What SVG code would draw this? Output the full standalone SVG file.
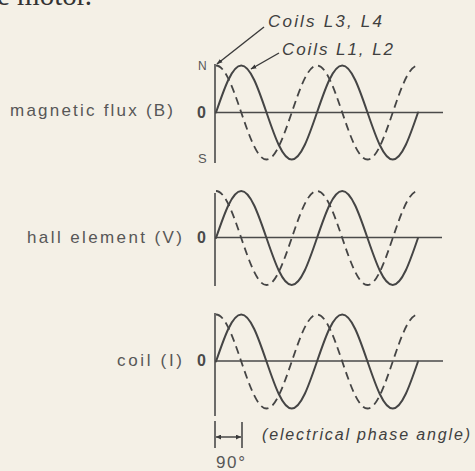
<svg xmlns="http://www.w3.org/2000/svg" xmlns:xlink="http://www.w3.org/1999/xlink" width="475" height="471" viewBox="0 0 475 471">
<style>
.bg{fill:#f4f0e6}
.t{font-family:"Liberation Sans",Arial,sans-serif;fill:#575757;font-size:17px}
.it{font-style:italic;fill:#404040}
.z{font-weight:bold;fill:#4a4a4a;font-size:16px}
.ax{stroke:#4a4a4a;stroke-width:1.6;fill:none}
.sol{stroke:#454545;stroke-width:2;fill:none;stroke-linecap:round}
.dsh{stroke:#454545;stroke-width:1.8;fill:none;stroke-dasharray:8 5}
.ld{stroke:#3a3a3a;stroke-width:1.4;fill:none}
.cap{font-family:"Liberation Serif","Times New Roman",serif;fill:#333;font-size:29px}
</style>
<defs>
<path id="sinw" d="M0,0 c8.234,-24.08 16.112,-47 25.25,-47 c9.138,0 17.016,22.92 25.25,47 c8.234,24.08 16.112,47 25.25,47 c9.138,0 17.016,-22.92 25.25,-47 c8.234,-24.08 16.112,-47 25.25,-47 c9.138,0 17.016,22.92 25.25,47 c8.234,24.08 16.112,47 25.25,47 c9.138,0 17.016,-22.92 25.25,-47"/>
<path id="cosw" d="M0,-47 c9.138,0 17.016,22.92 25.25,47 c8.234,24.08 16.112,47 25.25,47 c9.138,0 17.016,-22.92 25.25,-47 c8.234,-24.08 16.112,-47 25.25,-47 c9.138,0 17.016,22.92 25.25,47 c8.234,24.08 16.112,47 25.25,47 c9.138,0 17.016,-22.92 25.25,-47 c8.234,-24.08 16.112,-47 25.25,-47"/>
<marker id="ah" viewBox="0 0 10 10" refX="9" refY="5" markerWidth="6" markerHeight="6" orient="auto" markerUnits="userSpaceOnUse">
<path d="M0,1.5 L10,5 L0,8.5 Z" fill="#3a3a3a"/>
</marker>
<marker id="ah2" viewBox="0 0 10 10" refX="10" refY="5" markerWidth="7" markerHeight="5" orient="auto-start-reverse" markerUnits="userSpaceOnUse">
<path d="M0,0 L10,5 L0,10 Z" fill="#3a3a3a"/>
</marker>
</defs>
<rect class="bg" x="0" y="0" width="475" height="471"/>
<text class="cap" x="-3" y="5">e motor.</text>

<g id="plot-flux">
<text class="t" x="10" y="116" textLength="163" lengthAdjust="spacing">magnetic flux (B)</text>
<text class="t" x="198" y="70" style="font-size:12px">N</text>
<text class="t z" x="197" y="118">0</text>
<text class="t" x="198" y="163" style="font-size:13px">S</text>
<line class="ax" x1="215" y1="64" x2="215" y2="163"/>
<line class="ax" x1="215" y1="112.5" x2="443" y2="112.5"/>
<use xlink:href="#cosw" href="#cosw" x="216" y="112.5" class="dsh"/>
<use xlink:href="#sinw" href="#sinw" x="216" y="112.5" class="sol"/>
</g>

<g id="plot-hall">
<text class="t" x="27" y="243" textLength="155" lengthAdjust="spacing">hall element (V)</text>
<text class="t z" x="197" y="243">0</text>
<line class="ax" x1="215" y1="193" x2="215" y2="286"/>
<line class="ax" x1="215" y1="237.5" x2="442" y2="237.5"/>
<use xlink:href="#cosw" href="#cosw" x="216" y="238" class="dsh"/>
<use xlink:href="#sinw" href="#sinw" x="216" y="238" class="sol"/>
</g>

<g id="plot-coil">
<text class="t" x="117" y="366" textLength="65" lengthAdjust="spacing">coil (I)</text>
<text class="t z" x="197" y="366">0</text>
<line class="ax" x1="215" y1="313" x2="215" y2="416"/>
<line class="ax" x1="215" y1="361" x2="443" y2="361"/>
<use xlink:href="#cosw" href="#cosw" x="216" y="361.5" class="dsh"/>
<use xlink:href="#sinw" href="#sinw" x="216" y="361.5" class="sol"/>
</g>

<g id="label-l3l4">
<text class="t it" x="268" y="27" textLength="114" lengthAdjust="spacing">Coils L3, L4</text>
</g>
<g id="label-l1l2">
<text class="t it" x="282" y="55" textLength="111" lengthAdjust="spacing">Coils L1, L2</text>
</g>

<g id="phase-angle">
<line class="ax" x1="215" y1="421" x2="215" y2="448"/>
<line class="ax" x1="242" y1="422" x2="242" y2="448"/>
<line class="ld" x1="216" y1="437" x2="241" y2="437" marker-start="url(#ah2)" marker-end="url(#ah2)"/>
<text class="t it" x="262" y="440" textLength="208" lengthAdjust="spacing" style="font-size:16px">(electrical phase angle)</text>
<text class="t" x="216" y="468" textLength="29" lengthAdjust="spacing">90°</text>
</g>

<g id="connectors">
<line class="ld" x1="264" y1="27" x2="217" y2="64" marker-end="url(#ah)"/>
<line class="ld" x1="279" y1="53" x2="251" y2="69" marker-end="url(#ah)"/>
</g>
</svg>
